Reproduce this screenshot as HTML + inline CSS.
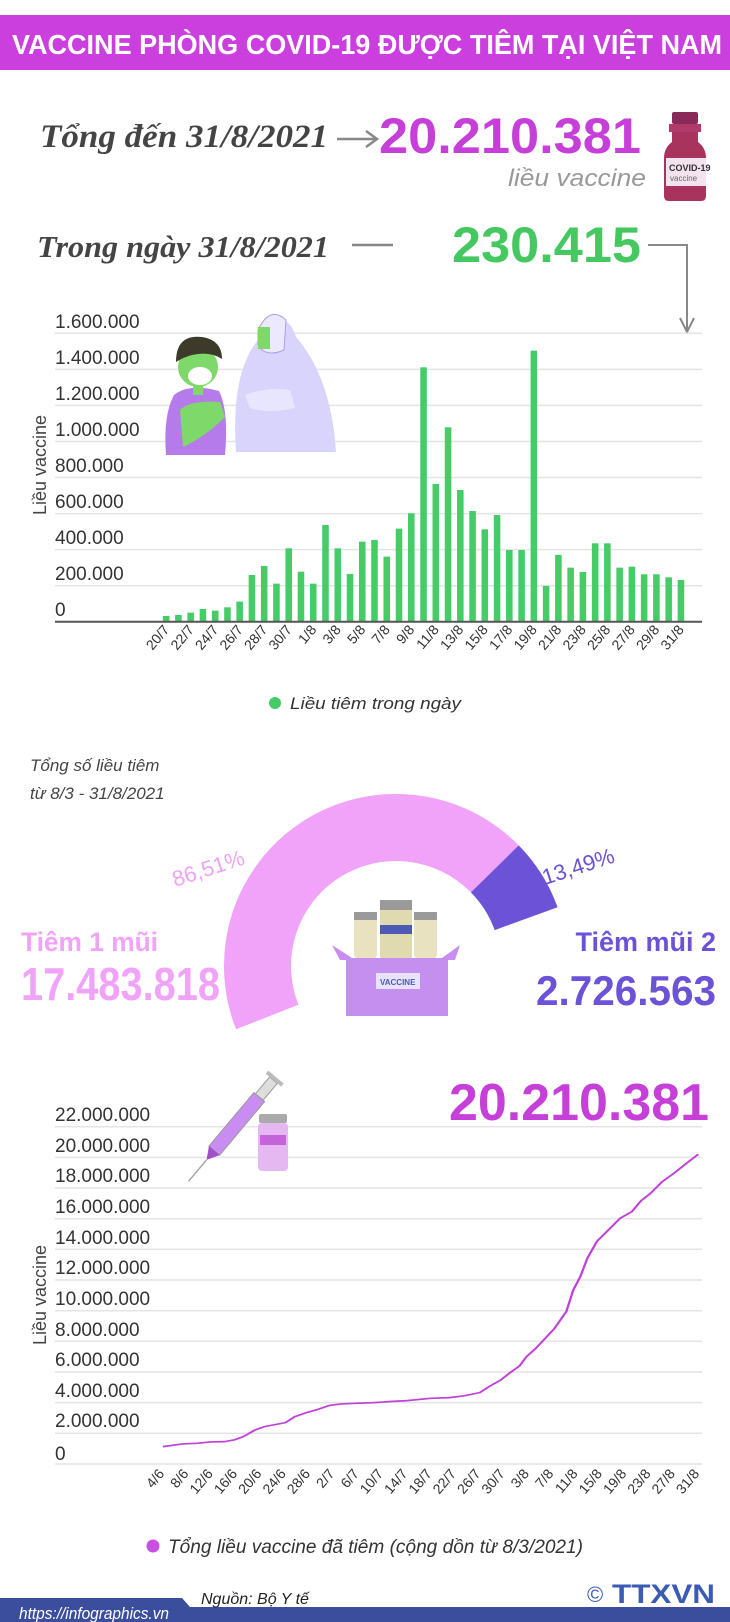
<!DOCTYPE html>
<html><head><meta charset="utf-8"><style>
html,body{margin:0;padding:0;background:#fff;}
svg{display:block;}
text{font-family:"Liberation Sans",sans-serif;}
.yl{font-size:19px;fill:#333;}
.xl{font-size:14px;fill:#333;}
</style></head><body>
<svg width="730" height="1622" viewBox="0 0 730 1622" xmlns="http://www.w3.org/2000/svg">
<!-- Header -->
<rect x="0" y="15" width="730" height="55" fill="#cb3fdf"/>
<text x="12" y="54" font-size="28" font-weight="bold" fill="#fff" textLength="710" lengthAdjust="spacingAndGlyphs">VACCINE PHÒNG COVID-19 ĐƯỢC TIÊM TẠI VIỆT NAM</text>

<!-- Totals -->
<text x="40" y="147" font-style="italic" font-weight="bold" font-size="33" fill="#444" textLength="288" lengthAdjust="spacingAndGlyphs" style="font-family:'Liberation Serif',serif">Tổng đến 31/8/2021</text>
<line x1="337" y1="139" x2="376" y2="139" stroke="#888" stroke-width="2.5"/>
<polyline points="366,131 377,139 366,147" fill="none" stroke="#888" stroke-width="2.5"/>
<text x="379" y="153" font-size="50" font-weight="bold" fill="#c63fd8" textLength="262" lengthAdjust="spacingAndGlyphs">20.210.381</text>
<text x="508" y="186" font-size="24" font-style="italic" fill="#999" textLength="138" lengthAdjust="spacingAndGlyphs">liều vaccine</text>
<!-- vial -->
<rect x="672" y="112" width="26" height="12" rx="2" fill="#8a2a5a"/>
<rect x="669" y="124" width="32" height="8" fill="#b03a6a"/>
<path d="M672 132 h26 v10 q8 6 8 16 v38 q0 5 -5 5 h-32 q-5 0 -5 -5 v-38 q0 -10 8 -16z" fill="#a8345e"/>
<rect x="666" y="158" width="40" height="28" fill="#f3e3ee"/>
<text x="669" y="171" font-size="9" font-weight="bold" fill="#333">COVID-19</text>
<text x="670" y="181" font-size="8" fill="#666">vaccine</text>

<text x="37" y="257" font-style="italic" font-weight="bold" font-size="31" fill="#444" textLength="292" lengthAdjust="spacingAndGlyphs" style="font-family:'Liberation Serif',serif">Trong ngày 31/8/2021</text>
<line x1="352" y1="245" x2="393" y2="245" stroke="#888" stroke-width="2.5"/>
<text x="452" y="262" font-size="50" font-weight="bold" fill="#45c85f" textLength="189" lengthAdjust="spacingAndGlyphs">230.415</text>
<polyline points="648,245 687,245 687,330" fill="none" stroke="#888" stroke-width="2"/>
<polyline points="680,318 687,332 694,318" fill="none" stroke="#888" stroke-width="2"/>

<!-- Bar chart gridlines -->
<g stroke="#e4e4e4" stroke-width="1.5">
<line x1="55" y1="333.3" x2="702" y2="333.3"/>
<line x1="55" y1="369.4" x2="702" y2="369.4"/>
<line x1="55" y1="405.4" x2="702" y2="405.4"/>
<line x1="55" y1="441.5" x2="702" y2="441.5"/>
<line x1="55" y1="477.5" x2="702" y2="477.5"/>
<line x1="55" y1="513.6" x2="702" y2="513.6"/>
<line x1="55" y1="549.6" x2="702" y2="549.6"/>
<line x1="55" y1="585.7" x2="702" y2="585.7"/>
</g>
<text x="55" y="328" class="yl">1.600.000</text>
<text x="55" y="364" class="yl">1.400.000</text>
<text x="55" y="400" class="yl">1.200.000</text>
<text x="55" y="436" class="yl">1.000.000</text>
<text x="55" y="472" class="yl">800.000</text>
<text x="55" y="508" class="yl">600.000</text>
<text x="55" y="544" class="yl">400.000</text>
<text x="55" y="580" class="yl">200.000</text>
<text x="55" y="616" class="yl">0</text>
<text transform="translate(46,465) rotate(-90)" text-anchor="middle" font-size="18" fill="#444">Liều vaccine</text>

<!-- person illustration -->
<g>
<path d="M236 452 q-6 -90 30 -120 q20 -25 30 5 q35 40 40 115z" fill="#d8d4fb"/>
<path d="M258 330 q12 -25 28 -10 l-2 30 q-18 8 -26 -5z" fill="#ece9ff" stroke="#aaa0e8" stroke-width="1"/>
<rect x="258" y="327" width="12" height="22" fill="#7fd86a"/>
<path d="M245 395 q20 -8 45 -5 l5 18 q-25 6 -45 0z" fill="#e8e6ff"/>
<path d="M166 455 q-3 -40 8 -60 q15 -12 45 -4 q10 20 6 64z" fill="#b57bea"/>
<path d="M180 410 q10 -10 40 -8 l5 15 q-20 20 -42 30z" fill="#7fd86a"/>
<circle cx="198" cy="367" r="20" fill="#7fd86a"/>
<path d="M176 362 q0 -28 26 -25 q20 3 20 22 q-12 -8 -30 -4 q-8 2 -16 7z" fill="#3d3a2a"/>
<ellipse cx="200" cy="376" rx="12" ry="9" fill="#fff"/>
<rect x="193" y="385" width="10" height="10" fill="#7fd86a"/>
</g>

<!-- Bars -->
<g transform="matrix(0.468,0,0,0.3333,0,290)" fill="#45cc66">
<rect x="348" y="978" width="14" height="17"/>
<rect x="374.2" y="975" width="14" height="20"/>
<rect x="400.4" y="968" width="14" height="27"/>
<rect x="426.6" y="957" width="14" height="38"/>
<rect x="452.8" y="962" width="14" height="33"/>
<rect x="479" y="952" width="14" height="43"/>
<rect x="505.1" y="935" width="14" height="60"/>
<rect x="531.3" y="855" width="14" height="140"/>
<rect x="557.5" y="828" width="14" height="167"/>
<rect x="583.7" y="881" width="14" height="114"/>
<rect x="609.9" y="775" width="14" height="220"/>
<rect x="636.1" y="845" width="14" height="150"/>
<rect x="662.3" y="881" width="14" height="114"/>
<rect x="688.5" y="705" width="14" height="290"/>
<rect x="714.7" y="775" width="14" height="220"/>
<rect x="740.9" y="852" width="14" height="143"/>
<rect x="767" y="755" width="14" height="240"/>
<rect x="793.2" y="750" width="14" height="245"/>
<rect x="819.4" y="800" width="14" height="195"/>
<rect x="845.6" y="716" width="14" height="279"/>
<rect x="871.8" y="670" width="14" height="325"/>
<rect x="898" y="232" width="14" height="763"/>
<rect x="924.2" y="582" width="14" height="413"/>
<rect x="950.4" y="412" width="14" height="583"/>
<rect x="976.6" y="600" width="14" height="395"/>
<rect x="1002.8" y="663" width="14" height="332"/>
<rect x="1028.9" y="718" width="14" height="277"/>
<rect x="1055.1" y="675" width="14" height="320"/>
<rect x="1081.3" y="780" width="14" height="215"/>
<rect x="1107.5" y="780" width="14" height="215"/>
<rect x="1133.7" y="182" width="14" height="813"/>
<rect x="1159.9" y="888" width="14" height="107"/>
<rect x="1186.1" y="795" width="14" height="200"/>
<rect x="1212.3" y="833" width="14" height="162"/>
<rect x="1238.5" y="846" width="14" height="149"/>
<rect x="1264.7" y="760" width="14" height="235"/>
<rect x="1290.8" y="760" width="14" height="235"/>
<rect x="1317" y="833" width="14" height="162"/>
<rect x="1343.2" y="830" width="14" height="165"/>
<rect x="1369.4" y="853" width="14" height="142"/>
<rect x="1395.6" y="853" width="14" height="142"/>
<rect x="1421.8" y="862" width="14" height="133"/>
<rect x="1448" y="870" width="14" height="125"/>
</g>
<line x1="55" y1="621.7" x2="702" y2="621.7" stroke="#555" stroke-width="2"/>
<g text-anchor="end">
<text class="xl" transform="translate(170,630) rotate(-50)">20/7</text>
<text class="xl" transform="translate(194.6,630) rotate(-50)">22/7</text>
<text class="xl" transform="translate(219.1,630) rotate(-50)">24/7</text>
<text class="xl" transform="translate(243.6,630) rotate(-50)">26/7</text>
<text class="xl" transform="translate(268.1,630) rotate(-50)">28/7</text>
<text class="xl" transform="translate(292.6,630) rotate(-50)">30/7</text>
<text class="xl" transform="translate(317.1,630) rotate(-50)">1/8</text>
<text class="xl" transform="translate(341.6,630) rotate(-50)">3/8</text>
<text class="xl" transform="translate(366.1,630) rotate(-50)">5/8</text>
<text class="xl" transform="translate(390.6,630) rotate(-50)">7/8</text>
<text class="xl" transform="translate(415.1,630) rotate(-50)">9/8</text>
<text class="xl" transform="translate(439.6,630) rotate(-50)">11/8</text>
<text class="xl" transform="translate(464.1,630) rotate(-50)">13/8</text>
<text class="xl" transform="translate(488.6,630) rotate(-50)">15/8</text>
<text class="xl" transform="translate(513.1,630) rotate(-50)">17/8</text>
<text class="xl" transform="translate(537.6,630) rotate(-50)">19/8</text>
<text class="xl" transform="translate(562.1,630) rotate(-50)">21/8</text>
<text class="xl" transform="translate(586.6,630) rotate(-50)">23/8</text>
<text class="xl" transform="translate(611.1,630) rotate(-50)">25/8</text>
<text class="xl" transform="translate(635.6,630) rotate(-50)">27/8</text>
<text class="xl" transform="translate(660.1,630) rotate(-50)">29/8</text>
<text class="xl" transform="translate(684.6,630) rotate(-50)">31/8</text>
</g>
<circle cx="275" cy="703" r="6" fill="#45cc66"/>
<text x="290" y="709" font-size="17" font-style="italic" fill="#333" textLength="171" lengthAdjust="spacingAndGlyphs">Liều tiêm trong ngày</text>

<!-- Donut -->
<text x="30" y="771" font-size="17" font-style="italic" fill="#444">Tổng số liều tiêm</text>
<text x="30" y="799" font-size="17" font-style="italic" fill="#444">từ 8/3 - 31/8/2021</text>
<path d="M236.1 1029.3 A172 172 0 0 1 518.7 845.4 L470.9 892.4 A105 105 0 0 0 298.4 1004.7 Z" fill="#f0a3f8"/>
<path d="M518.7 845.4 A172 172 0 0 1 557.6 907.2 L494.7 930.1 A105 105 0 0 0 470.9 892.4 Z" fill="#6b52d6"/>
<path d="M250 938 q30 -10 50 -40" fill="none" stroke="#f0a3f8" stroke-width="1"/>
<text transform="translate(175,887) rotate(-18)" font-size="22" fill="#f0a3f8">86,51%</text>
<text transform="translate(545,885) rotate(-18)" font-size="22" fill="#6b52d6">13,49%</text>
<text x="21" y="951" font-size="27" font-weight="bold" fill="#f0a3f8" textLength="137" lengthAdjust="spacingAndGlyphs">Tiêm 1 mũi</text>
<text x="21" y="1000" font-size="46" font-weight="bold" fill="#f0a3f8" textLength="199" lengthAdjust="spacingAndGlyphs">17.483.818</text>
<text x="716" y="951" text-anchor="end" font-size="27" font-weight="bold" fill="#6b52d6">Tiêm mũi 2</text>
<text x="716" y="1005" text-anchor="end" font-size="42" font-weight="bold" fill="#6b52d6" textLength="180" lengthAdjust="spacingAndGlyphs">2.726.563</text>
<!-- box with vials -->
<g>
<rect x="354" y="918" width="23" height="40" rx="3" fill="#e8e2c0"/>
<rect x="354" y="912" width="23" height="8" fill="#9a9a9a"/>
<rect x="380" y="908" width="32" height="52" rx="3" fill="#e0dab0"/>
<rect x="380" y="900" width="32" height="10" fill="#9a9a9a"/>
<rect x="380" y="925" width="32" height="9" fill="#4c5ab5"/>
<rect x="414" y="918" width="23" height="40" rx="3" fill="#e8e2c0"/>
<rect x="414" y="912" width="23" height="8" fill="#9a9a9a"/>
<polygon points="332,945 352,958 442,958 460,945 455,960 340,960" fill="#c98df2"/>
<rect x="346" y="958" width="102" height="58" fill="#c58ff0"/>
<rect x="376" y="973" width="44" height="16" fill="#e9e2ff"/>
<text x="380" y="985" font-size="8" font-weight="bold" fill="#4c5ab5">VACCINE</text>
</g>

<!-- Line chart -->
<g stroke="#e4e4e4" stroke-width="1.5">
<line x1="55" y1="1126.7" x2="702" y2="1126.7"/>
<line x1="55" y1="1157.4" x2="702" y2="1157.4"/>
<line x1="55" y1="1188" x2="702" y2="1188"/>
<line x1="55" y1="1218.7" x2="702" y2="1218.7"/>
<line x1="55" y1="1249.3" x2="702" y2="1249.3"/>
<line x1="55" y1="1280" x2="702" y2="1280"/>
<line x1="55" y1="1310.7" x2="702" y2="1310.7"/>
<line x1="55" y1="1341.3" x2="702" y2="1341.3"/>
<line x1="55" y1="1372" x2="702" y2="1372"/>
<line x1="55" y1="1402.6" x2="702" y2="1402.6"/>
<line x1="55" y1="1433.3" x2="702" y2="1433.3"/>
<line x1="55" y1="1464" x2="702" y2="1464"/>
</g>
<text x="55" y="1121" class="yl">22.000.000</text>
<text x="55" y="1152" class="yl">20.000.000</text>
<text x="55" y="1182" class="yl">18.000.000</text>
<text x="55" y="1213" class="yl">16.000.000</text>
<text x="55" y="1244" class="yl">14.000.000</text>
<text x="55" y="1274" class="yl">12.000.000</text>
<text x="55" y="1305" class="yl">10.000.000</text>
<text x="55" y="1336" class="yl">8.000.000</text>
<text x="55" y="1366" class="yl">6.000.000</text>
<text x="55" y="1397" class="yl">4.000.000</text>
<text x="55" y="1427" class="yl">2.000.000</text>
<text x="55" y="1460" class="yl">0</text>
<text transform="translate(46,1295) rotate(-90)" text-anchor="middle" font-size="18" fill="#444">Liều vaccine</text>
<text x="449" y="1120" font-size="52" font-weight="bold" fill="#c63fd8" textLength="260" lengthAdjust="spacingAndGlyphs">20.210.381</text>
<!-- syringe -->
<g transform="translate(240,1120) rotate(-50)">
<rect x="-40" y="-7" width="70" height="14" fill="#c98df2" stroke="#999" stroke-width="1"/>
<rect x="30" y="-5" width="22" height="10" fill="#ddd" stroke="#999"/>
<rect x="52" y="-10" width="4" height="20" fill="#bbb"/>
<polygon points="-40,-7 -52,0 -40,7" fill="#a04fc8"/>
<line x1="-52" y1="0" x2="-80" y2="0" stroke="#aaa" stroke-width="1.5"/>
</g>
<rect x="259" y="1114" width="28" height="9" rx="2" fill="#aaa"/>
<rect x="258" y="1123" width="30" height="48" rx="4" fill="#e6b8f2"/>
<rect x="260" y="1135" width="26" height="10" fill="#c564d8"/>
<g transform="matrix(0.468,0,0,0.3333,0,1050)">
<polyline fill="none" stroke="#c040d8" stroke-width="5" stroke-linejoin="round" points="348,1190 390,1182 420,1180 450,1176 480,1175 500,1170 520,1160 545,1140 565,1130 610,1118 630,1100 655,1088 680,1078 705,1066 730,1062 760,1060 800,1058 830,1055 870,1052 920,1045 960,1043 990,1038 1025,1028 1045,1010 1070,990 1090,968 1110,948 1125,920 1145,895 1165,865 1185,835 1210,785 1225,720 1240,680 1255,625 1275,575 1300,540 1325,505 1350,485 1370,452 1390,430 1415,395 1440,370 1465,342 1492,313"/>
</g>
<g text-anchor="end">
<text class="xl" transform="translate(165,1474) rotate(-50)">4/6</text>
<text class="xl" transform="translate(189.3,1474) rotate(-50)">8/6</text>
<text class="xl" transform="translate(213.6,1474) rotate(-50)">12/6</text>
<text class="xl" transform="translate(238,1474) rotate(-50)">16/6</text>
<text class="xl" transform="translate(262.3,1474) rotate(-50)">20/6</text>
<text class="xl" transform="translate(286.6,1474) rotate(-50)">24/6</text>
<text class="xl" transform="translate(310.9,1474) rotate(-50)">28/6</text>
<text class="xl" transform="translate(335.2,1474) rotate(-50)">2/7</text>
<text class="xl" transform="translate(359.6,1474) rotate(-50)">6/7</text>
<text class="xl" transform="translate(383.9,1474) rotate(-50)">10/7</text>
<text class="xl" transform="translate(408.2,1474) rotate(-50)">14/7</text>
<text class="xl" transform="translate(432.5,1474) rotate(-50)">18/7</text>
<text class="xl" transform="translate(456.8,1474) rotate(-50)">22/7</text>
<text class="xl" transform="translate(481.2,1474) rotate(-50)">26/7</text>
<text class="xl" transform="translate(505.5,1474) rotate(-50)">30/7</text>
<text class="xl" transform="translate(529.8,1474) rotate(-50)">3/8</text>
<text class="xl" transform="translate(554.1,1474) rotate(-50)">7/8</text>
<text class="xl" transform="translate(578.4,1474) rotate(-50)">11/8</text>
<text class="xl" transform="translate(602.8,1474) rotate(-50)">15/8</text>
<text class="xl" transform="translate(627.1,1474) rotate(-50)">19/8</text>
<text class="xl" transform="translate(651.4,1474) rotate(-50)">23/8</text>
<text class="xl" transform="translate(675.7,1474) rotate(-50)">27/8</text>
<text class="xl" transform="translate(700,1474) rotate(-50)">31/8</text>
</g>
<circle cx="153" cy="1546" r="6.5" fill="#c94fe0"/>
<text x="168" y="1553" font-size="19" font-style="italic" fill="#333" textLength="415" lengthAdjust="spacingAndGlyphs">Tổng liều vaccine đã tiêm (cộng dồn từ 8/3/2021)</text>

<!-- Footer -->
<polygon points="0,1598 182,1598 190,1607 730,1607 730,1622 0,1622" fill="#3b4e9e"/>
<text x="19" y="1619" font-size="17" font-style="italic" fill="#fff" textLength="150" lengthAdjust="spacingAndGlyphs">https://infographics.vn</text>
<text x="201" y="1604" font-size="16" font-style="italic" fill="#222">Nguồn: Bộ Y tế</text>
<text x="587" y="1602" font-size="22" fill="#3b5bb5">©</text>
<text x="612" y="1603" font-size="27" font-weight="bold" fill="#3b5bb5" textLength="103" lengthAdjust="spacingAndGlyphs">TTXVN</text>
</svg>
</body></html>
